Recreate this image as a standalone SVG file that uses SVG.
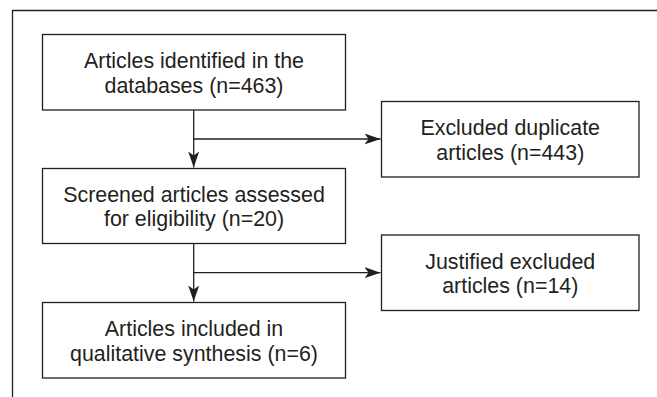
<svg xmlns="http://www.w3.org/2000/svg" width="657" height="397" viewBox="0 0 657 397">
  <style>
    .box { fill: #ffffff; stroke: #231f20; stroke-width: 1.3; }
    .txt { font-family: "Liberation Sans", Arial, Helvetica, sans-serif; font-size: 21.4px; fill: #231f20; text-anchor: middle; }
    .conn { fill: none; stroke: #231f20; stroke-width: 1.3; }
    .frame { fill: none; stroke: #231f20; stroke-width: 1.3; }
  </style>
  <defs>
    <marker id="arrow" markerUnits="userSpaceOnUse" markerWidth="17" markerHeight="12" refX="16" refY="5.5" orient="auto">
      <path d="M0,0 L16,5.5 L0,11 L4,5.5 z" fill="#231f20"/>
    </marker>
  </defs>
  <rect width="657" height="397" fill="#ffffff"/>
  <path class="frame" d="M12.5,397 L12.5,10.5 L657,10.5"/>

  <g id="connectors">
    <line class="conn" x1="193.7" y1="110" x2="193.7" y2="167.5" marker-end="url(#arrow)"/>
    <line class="conn" x1="193.7" y1="139" x2="380.5" y2="139" marker-end="url(#arrow)"/>
    <line class="conn" x1="193.7" y1="243.5" x2="193.7" y2="301.5" marker-end="url(#arrow)"/>
    <line class="conn" x1="193.7" y1="272.7" x2="380.5" y2="272.7" marker-end="url(#arrow)"/>
  </g>

  <g id="node-identified">
    <rect class="box" x="42.5" y="34.5" width="303" height="75.5"/>
    <text class="txt" x="194" y="68">Articles identified in the</text>
    <text class="txt" x="194" y="92.5">databases (n=463)</text>
  </g>

  <g id="node-duplicates">
    <rect class="box" x="381.5" y="101.5" width="257.5" height="75.5"/>
    <text class="txt" x="510.25" y="135">Excluded duplicate</text>
    <text class="txt" x="510.25" y="159.5">articles (n=443)</text>
  </g>

  <g id="node-screened">
    <rect class="box" x="42.5" y="168.5" width="303" height="75"/>
    <text class="txt" x="194" y="201.7">Screened articles assessed</text>
    <text class="txt" x="194" y="226.2">for eligibility (n=20)</text>
  </g>

  <g id="node-justified">
    <rect class="box" x="381.5" y="235" width="257.5" height="75.5"/>
    <text class="txt" x="510.25" y="268.5">Justified excluded</text>
    <text class="txt" x="510.25" y="293">articles (n=14)</text>
  </g>

  <g id="node-included">
    <rect class="box" x="42.5" y="302.5" width="303" height="75.5"/>
    <text class="txt" x="194" y="336">Articles included in</text>
    <text class="txt" x="194" y="360.5">qualitative synthesis (n=6)</text>
  </g>
</svg>
